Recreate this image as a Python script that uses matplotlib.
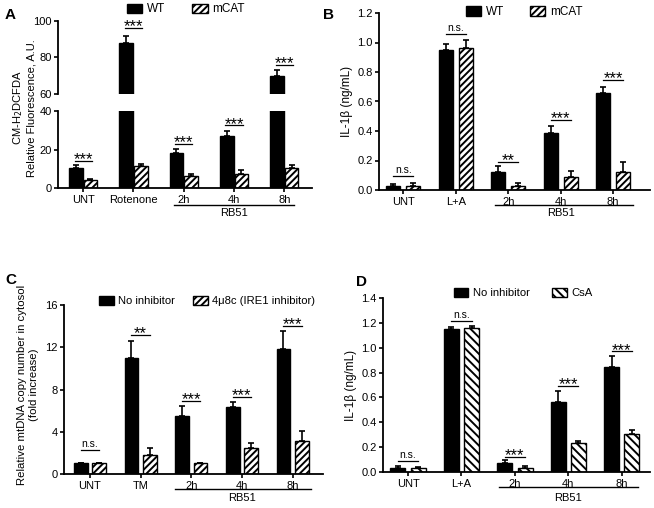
import numpy as np
import matplotlib.pyplot as plt
from matplotlib.patches import Patch
from matplotlib.transforms import blended_transform_factory

plt.rcParams['font.family'] = ['Liberation Sans', 'DejaVu Sans']
plt.rcParams['hatch.linewidth'] = 1.4

W, H = 654, 508

# ---- Panel A: CM-H2DCFDA fluorescence
a_groups = ['UNT', 'Rotenone', '2h', '4h', '8h']
a_wt = [10.5, 88, 18, 27, 70]
a_wt_err = [1.5, 3.5, 2.5, 2.5, 3.0]
a_mcat = [4.0, 11.5, 6.0, 7.5, 10.5]
a_mcat_err = [0.7, 1.2, 1.3, 2.0, 1.5]
a_sig = ['***', '***', '***', '***', '***']
a_sig_y = [14, 96, 23, 32.5, 76]

# ---- Panel B: IL-1b, WT vs mCAT
b_groups = ['UNT', 'L+A', '2h', '4h', '8h']
b_wt = [0.03, 0.95, 0.125, 0.385, 0.655]
b_wt_err = [0.01, 0.04, 0.035, 0.05, 0.045]
b_mcat = [0.025, 0.96, 0.03, 0.09, 0.125]
b_mcat_err = [0.025, 0.055, 0.02, 0.04, 0.065]
b_sig = ['n.s.', 'n.s.', '**', '***', '***']
b_sig_y = [0.097, 1.058, 0.19, 0.475, 0.745]

# ---- Panel C: mtDNA copy number
c_groups = ['UNT', 'TM', '2h', '4h', '8h']
c_noinh = [1.0, 11.0, 5.5, 6.3, 11.8]
c_noinh_err = [0.0, 1.6, 0.9, 0.5, 1.7]
c_inh = [1.0, 1.8, 1.05, 2.5, 3.1]
c_inh_err = [0.0, 0.7, 0.0, 0.4, 1.0]
c_sig = ['n.s.', '**', '***', '***', '***']
c_sig_y = [2.27, 13.2, 6.9, 7.3, 14.0]

# ---- Panel D: IL-1b, no inhibitor vs CsA
d_groups = ['UNT', 'L+A', '2h', '4h', '8h']
d_noinh = [0.035, 1.15, 0.075, 0.565, 0.845]
d_noinh_err = [0.01, 0.02, 0.02, 0.09, 0.085]
d_csa = [0.035, 1.16, 0.035, 0.235, 0.305]
d_csa_err = [0.008, 0.012, 0.015, 0.015, 0.03]
d_sig = ['n.s.', 'n.s.', '***', '***', '***']
d_sig_y = [0.09, 1.215, 0.123, 0.69, 0.97]


def px_axes(fig, l, t, r, b):
    return fig.add_axes([l / W, 1 - b / H, (r - l) / W, (b - t) / H])


def style(ax):
    for s in ['top', 'right']:
        ax.spines[s].set_visible(False)
    for s in ['left', 'bottom']:
        ax.spines[s].set_linewidth(1.3)
    ax.tick_params(axis='y', length=3, width=1.2, labelsize=8, pad=1.5)
    ax.tick_params(axis='x', length=3, width=1.2, labelsize=8, pad=2)


def bars(ax, v1, e1, v2, e2, hatch, off, width):
    x = np.arange(len(v1))
    ek = dict(elinewidth=1.2, capthick=1.2, ecolor='black')
    ax.bar(x - off, v1, width, color='black', edgecolor='black', linewidth=1,
           yerr=[np.zeros(len(e1)), e1], capsize=2.5, error_kw=ek)
    ax.bar(x + off, v2, width, color='white', edgecolor='black', linewidth=1,
           hatch=hatch, yerr=[np.zeros(len(e2)), e2], capsize=2.5, error_kw=ek)


def sig_one(ax, i, t, y, off):
    ax.plot([i - off, i + off], [y, y], color='black', lw=0.9, clip_on=False)
    if t == 'n.s.':
        ax.annotate(t, (i, y), xytext=(0, 0.5), textcoords='offset points',
                    ha='center', va='bottom', fontsize=7.5)
    else:
        ax.annotate(t, (i, y), xytext=(0, -4.5), textcoords='offset points',
                    ha='center', va='bottom', fontsize=12)


def sig(ax, labels, ys, off):
    for i, (t, y) in enumerate(zip(labels, ys)):
        sig_one(ax, i, t, y, off)


def rb51(fig, ax, x0, x1, ypx, ytxt):
    tr = blended_transform_factory(ax.transData, fig.transFigure)
    ax.plot([x0, x1], [1 - ypx / H, 1 - ypx / H], color='black', lw=1,
            transform=tr, clip_on=False)
    ax.text(3, 1 - ytxt / H, 'RB51', transform=tr, ha='center', va='center', fontsize=8)


def legend(fig, labels, hatch, x, y, spacing, size=8.5):
    h = [Patch(facecolor='black', edgecolor='black'),
         Patch(facecolor='white', edgecolor='black', hatch=hatch)]
    fig.legend(h, labels, loc='center', bbox_to_anchor=(x / W, 1 - y / H), ncol=2,
               frameon=False, fontsize=size, handlelength=1.3, handleheight=0.9,
               handletextpad=0.4, columnspacing=spacing, borderpad=0)


fig = plt.figure(figsize=(W / 100, H / 100), dpi=100)

# Panel A (broken axis)
axt = px_axes(fig, 58, 20.7, 312, 94)
axb = px_axes(fig, 58, 111, 312, 188)
for ax in (axt, axb):
    style(ax)
    bars(ax, a_wt, a_wt_err, a_mcat, a_mcat_err, '/////', 0.145, 0.27)
    ax.set_xlim(-0.5, 4.55)
axt.set_ylim(60, 100)
axt.set_yticks([60, 80, 100])
axt.spines['bottom'].set_visible(False)
axt.set_xticks([])
axb.set_ylim(0, 40)
axb.set_yticks([0, 20, 40])
axb.set_xticks(range(5))
axb.set_xticklabels(a_groups)
for i, (t, y) in enumerate(zip(a_sig, a_sig_y)):
    sig_one(axt if y >= 60 else axb, i, t, y, 0.17)
rb51(fig, axb, 1.8, 4.2, 205, 213.5)
fig.text(24 / W, 1 - 108 / H, 'CM-H$_2$DCFDA\nRelative Fluorescence, A.U.', rotation=90,
         ha='center', va='center', fontsize=8, multialignment='center')
legend(fig, ['WT', 'mCAT'], '/////', 186, 9.5, 2.3)
fig.text(5 / W, 1 - 15 / H, 'A', fontsize=11, fontweight='bold', va='center')

# Panel B
axB = px_axes(fig, 379, 13, 650, 190)
style(axB)
bars(axB, b_wt, b_wt_err, b_mcat, b_mcat_err, '/////', 0.19, 0.27)
axB.set_xlim(-0.46, 4.7)
axB.set_ylim(0, 1.2)
axB.set_yticks(np.arange(0, 1.21, 0.2))
axB.set_yticklabels([f'{v:.1f}' for v in np.arange(0, 1.21, 0.2)])
axB.set_xticks(range(5))
axB.set_xticklabels(b_groups)
sig(axB, b_sig, b_sig_y, 0.19)
rb51(fig, axB, 1.75, 4.38, 205, 213.5)
axB.set_ylabel('IL-1β (ng/mL)', fontsize=8.5, labelpad=3)
legend(fig, ['WT', 'mCAT'], '/////', 524, 12, 2.2)
fig.text(323 / W, 1 - 15 / H, 'B', fontsize=11, fontweight='bold', va='center')

# Panel C
axC = px_axes(fig, 64, 305, 323, 474)
style(axC)
bars(axC, c_noinh, c_noinh_err, c_inh, c_inh_err, '/////', 0.18, 0.27)
axC.set_xlim(-0.51, 4.6)
axC.set_ylim(0, 16)
axC.set_yticks([0, 4, 8, 12, 16])
axC.set_xticks(range(5))
axC.set_xticklabels(c_groups)
sig(axC, c_sig, c_sig_y, 0.18)
rb51(fig, axC, 1.68, 4.37, 489, 498)
fig.text(28 / W, 1 - 385 / H, 'Relative mtDNA copy number in cytosol\n(fold increase)',
         rotation=90, ha='center', va='center', fontsize=8.2, multialignment='center')
legend(fig, ['No inhibitor', '4μ8c (IRE1 inhibitor)'], '/////', 207, 301, 1.6, 8.1)
fig.text(5 / W, 1 - 280 / H, 'C', fontsize=11, fontweight='bold', va='center')

# Panel D
axD = px_axes(fig, 383, 298, 650, 472)
style(axD)
bars(axD, d_noinh, d_noinh_err, d_csa, d_csa_err, '\\\\\\\\', 0.19, 0.28)
axD.set_xlim(-0.47, 4.53)
axD.set_ylim(0, 1.4)
axD.set_yticks(np.arange(0, 1.41, 0.2))
axD.set_yticklabels([f'{v:.1f}' for v in np.arange(0, 1.41, 0.2)])
axD.set_xticks(range(5))
axD.set_xticklabels(d_groups)
sig(axD, d_sig, d_sig_y, 0.19)
rb51(fig, axD, 1.7, 4.3, 487, 498)
axD.set_ylabel('IL-1β (ng/mL)', fontsize=8.5, labelpad=3)
legend(fig, ['No inhibitor', 'CsA'], '\\\\\\\\', 523, 293, 2.0, 8.1)
fig.text(356 / W, 1 - 282 / H, 'D', fontsize=11, fontweight='bold', va='center')

fig.savefig('out.png', dpi=100)
